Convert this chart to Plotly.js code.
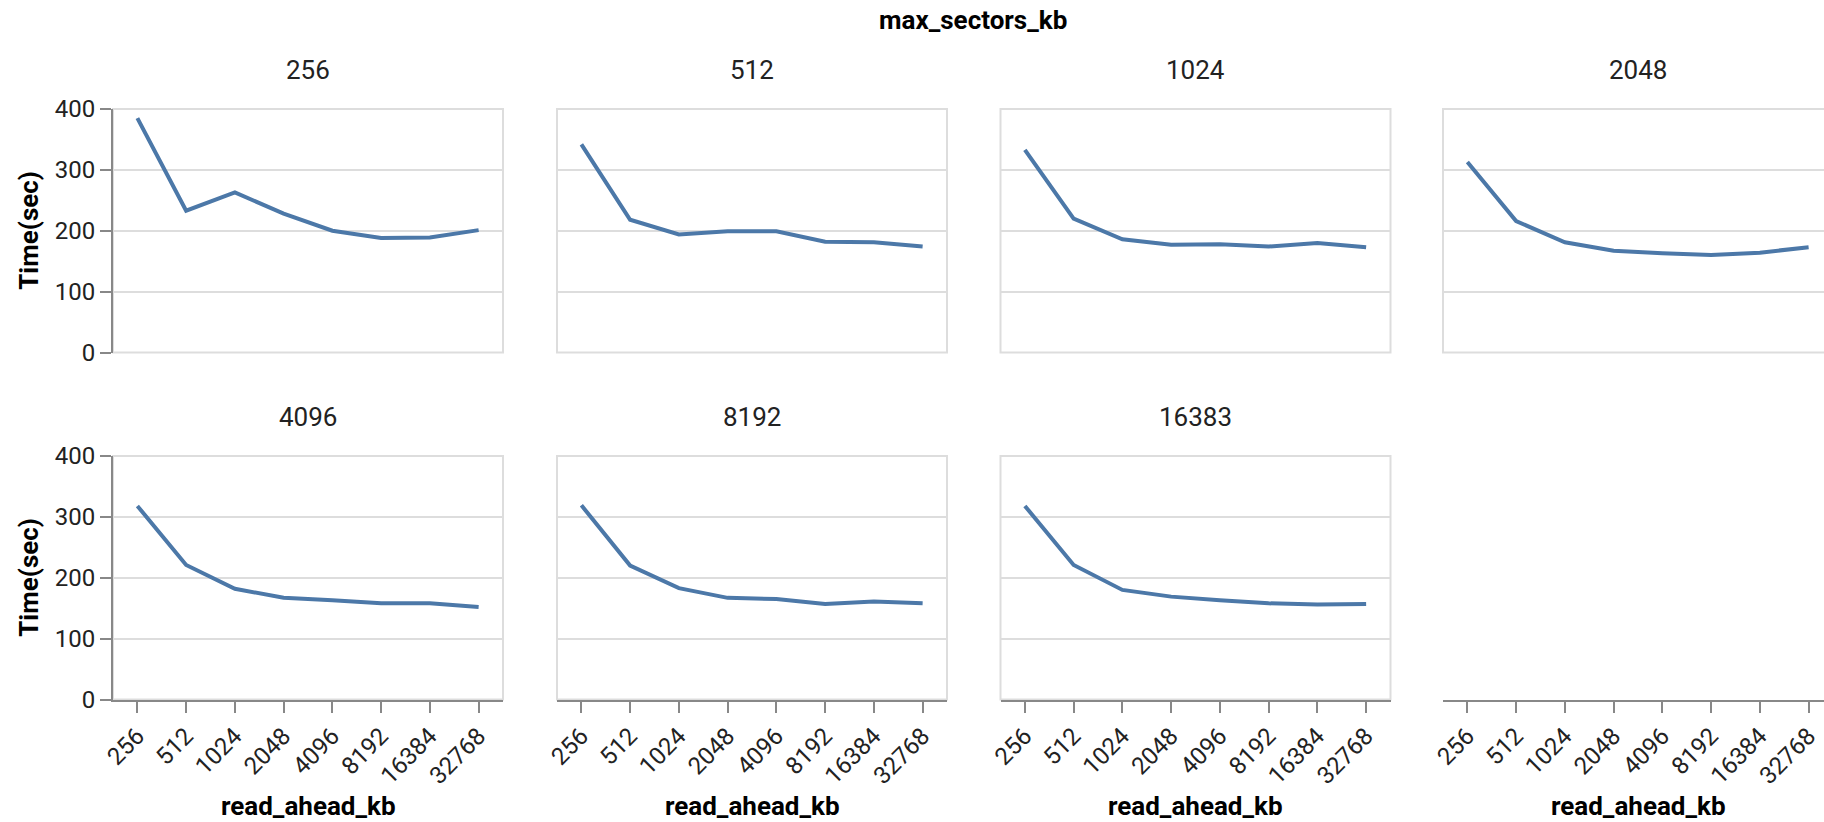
<!DOCTYPE html>
<html>
<head>
<meta charset="utf-8">
<script src="https://cdn.plot.ly/plotly-3.0.1.min.js"></script>
<style>
html, body { margin: 0; padding: 0; background: #fff; overflow: hidden; width: 1824px; height: 822px; }
#chart { width: 1840px; height: 822px; }
</style>
</head>
<body>
<div id="chart"></div>
<script>
// ---- data ----
const readAhead = ['256', '512', '1024', '2048', '4096', '8192', '16384', '32768'];
const maxSectors = ['256', '512', '1024', '2048', '4096', '8192', '16383'];
const time_256   = [385, 233, 263, 228, 200, 188, 189, 201];
const time_512   = [342, 218, 194, 199, 199, 182, 181, 174];
const time_1024  = [333, 220, 186, 177, 178, 174, 180, 173];
const time_2048  = [313, 216, 181, 167, 163, 160, 164, 173];
const time_4096  = [318, 221, 182, 167, 163, 158, 158, 152];
const time_8192  = [319, 220, 183, 167, 165, 157, 161, 158];
const time_16383 = [318, 221, 180, 169, 163, 158, 156, 157];
const seriesByPanel = [time_256, time_512, time_1024, time_2048, time_4096, time_8192, time_16383];
const yTitle = 'Time(sec)';
const xTitle = 'read_ahead_kb';
const facetTitle = 'max_sectors_kb';

// ---- layout geometry (pixels) ----
const W = 1840, H = 822;
const colLeft = [113, 557, 1000.5, 1443];
const panelW = 390;
const rowTop = [109, 456];
const panelH = 243.5;
const px = v => v / W;
const py = v => 1 - v / H;

const FONT = 'Roboto, "Open Sans", sans-serif';
const lineColor = '#4c78a8';
const gridColor = '#dddddd';
const axisColor = '#888888';

const data = [];
const layout = {
  width: W, height: H,
  margin: {l: 0, r: 0, t: 0, b: 0, pad: 0},
  paper_bgcolor: '#fff', plot_bgcolor: 'rgba(0,0,0,0)',
  showlegend: false,
  font: {family: FONT, size: 24, color: '#222'},
  annotations: [],
  shapes: []
};

for (let i = 0; i < 8; i++) {
  const row = Math.floor(i / 4), col = i % 4;
  const n = i + 1;
  const xa = 'xaxis' + (n === 1 ? '' : n);
  const ya = 'yaxis' + (n === 1 ? '' : n);
  const xr = 'x' + (n === 1 ? '' : n);
  const yr = 'y' + (n === 1 ? '' : n);
  const hasPanel = i < seriesByPanel.length;
  const bottomAxis = row === 1;
  const leftAxis = col === 0;

  data.push({
    type: 'scatter', mode: 'lines',
    x: readAhead,
    y: hasPanel ? seriesByPanel[i] : readAhead.map(() => null),
    xaxis: xr, yaxis: yr,
    line: {color: lineColor, width: 4},
    hoverinfo: 'skip'
  });

  layout[xa] = {
    type: 'category',
    categoryorder: 'array', categoryarray: readAhead,
    range: [-0.5, readAhead.length - 0.5],
    domain: [px(colLeft[col]), px(colLeft[col] + panelW)],
    anchor: yr,
    showgrid: false, zeroline: false,
    showline: bottomAxis, linecolor: axisColor, linewidth: 2,
    ticks: bottomAxis ? 'outside' : '', ticklen: 11, tickwidth: 2, tickcolor: axisColor,
    showticklabels: bottomAxis, tickangle: -45,
    tickfont: {family: FONT, size: 24, color: '#222'},
    fixedrange: true
  };
  layout[ya] = {
    range: [0, 400], dtick: 100, tick0: 0,
    domain: [py(rowTop[row] + panelH), py(rowTop[row])],
    anchor: xr,
    visible: hasPanel,
    showgrid: true, gridcolor: gridColor, gridwidth: 2,
    zeroline: false,
    showline: leftAxis, linecolor: axisColor, linewidth: 2,
    ticks: leftAxis ? 'outside' : '', ticklen: 11, tickwidth: 2, tickcolor: axisColor,
    showticklabels: leftAxis,
    tickfont: {family: FONT, size: 24, color: '#222'},
    fixedrange: true
  };

  if (hasPanel) {
    layout.shapes.push({
      type: 'rect', xref: xr + ' domain', yref: yr + ' domain',
      x0: 0, x1: 1, y0: 0, y1: 1,
      line: {color: gridColor, width: 2}, fillcolor: 'rgba(0,0,0,0)', layer: 'below'
    });
    layout.annotations.push({
      text: maxSectors[i], showarrow: false,
      xref: 'paper', yref: 'paper',
      x: px(colLeft[col] + panelW / 2), y: py(rowTop[row] - 39),
      xanchor: 'center', yanchor: 'middle',
      font: {family: FONT, size: 26, color: '#222'}
    });
  }
  if (leftAxis) {
    layout.annotations.push({
      text: '<b>' + yTitle + '</b>', showarrow: false, textangle: -90,
      xref: 'paper', yref: 'paper',
      x: px(29), y: py(rowTop[row] + panelH / 2),
      xanchor: 'center', yanchor: 'middle',
      font: {family: FONT, size: 26, color: '#000'}
    });
  }
  if (bottomAxis) {
    layout.annotations.push({
      text: '<b>' + xTitle + '</b>', showarrow: false,
      xref: 'paper', yref: 'paper',
      x: px(colLeft[col] + panelW / 2), y: py(806),
      xanchor: 'center', yanchor: 'middle',
      font: {family: FONT, size: 26, color: '#000'}
    });
  }
}

layout.annotations.push({
  text: '<b>' + facetTitle + '</b>', showarrow: false,
  xref: 'paper', yref: 'paper',
  x: px((colLeft[0] + colLeft[3] + panelW) / 2), y: py(20),
  xanchor: 'center', yanchor: 'middle',
  font: {family: FONT, size: 26, color: '#000'}
});

Plotly.newPlot('chart', data, layout, {displayModeBar: false, staticPlot: true});
</script>
</body>
</html>
